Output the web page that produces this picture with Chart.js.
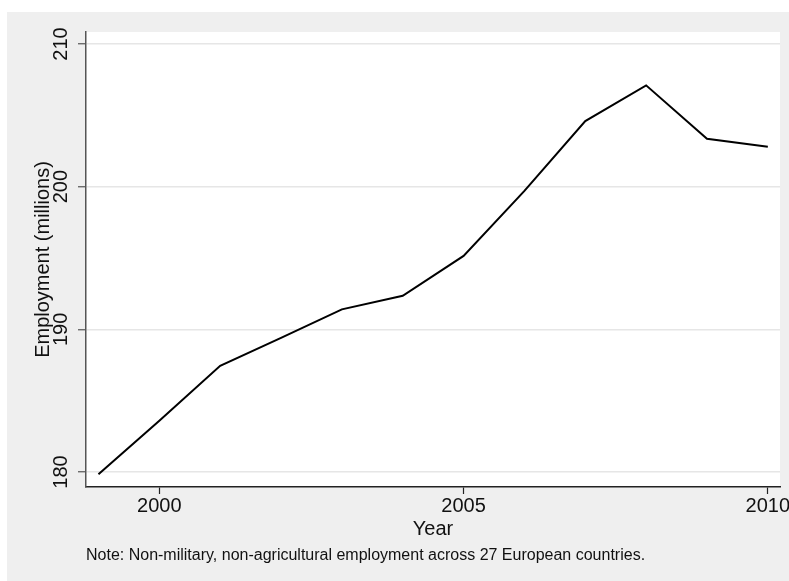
<!DOCTYPE html>
<html>
<head>
<meta charset="utf-8">
<script src="https://cdn.jsdelivr.net/npm/chart.js@4/dist/chart.umd.min.js"></script>
<style>
  html, body { margin: 0; padding: 0; background: #fff; }
  #wrap { width: 789px; height: 581px; }
</style>
</head>
<body>
<div id="wrap"><canvas id="chart" width="789" height="581"></canvas></div>
<script>
// data
const years = [1999, 2000, 2001, 2002, 2003, 2004, 2005, 2006, 2007, 2008, 2009, 2010];
const employment = [179.85, 183.6, 187.45, 189.4, 191.4, 192.35, 195.15, 199.7, 204.6, 207.1, 203.35, 202.8];
const xTicks = [2000, 2005, 2010];
const yTicks = [180, 190, 200, 210];
const noteText = 'Note: Non-military, non-agricultural employment across 27 European countries.';

const FONT = '"Liberation Sans", Arial, sans-serif';

// grey graph region, white strip top/left like the original export
const bgPlugin = {
    id: 'bg',
    beforeDraw(chart) {
        const ctx = chart.ctx;
        ctx.save();
        ctx.fillStyle = '#ffffff';
        ctx.fillRect(0, 0, chart.width, chart.height);
        ctx.fillStyle = '#efefef';
        ctx.fillRect(7, 12, chart.width - 7, chart.height - 12);
        const a = chart.chartArea;
        ctx.fillStyle = '#ffffff';
        ctx.fillRect(a.left, a.top, a.right - a.left, a.bottom - a.top);
        ctx.restore();
    }
};

new Chart(document.getElementById('chart'), {
    type: 'line',
    data: {
        datasets: [{
            data: years.map((yr, i) => ({ x: yr, y: employment[i] })),
            borderColor: '#000',
            borderWidth: 2,
            pointRadius: 0,
            tension: 0,
            fill: false
        }]
    },
    plugins: [bgPlugin],
    options: {
        responsive: false,
        animation: false,
        devicePixelRatio: 1,
        layout: { padding: { left: 7, top: 32, right: 9, bottom: 0 } },
        plugins: {
            legend: { display: false },
            tooltip: { enabled: false },
            title: {
                display: true,
                text: noteText,
                position: 'bottom',
                align: 'start',
                fullSize: false,
                color: '#111',
                font: { family: FONT, size: 16, weight: 'normal', lineHeight: 1.2 },
                padding: { top: 5, bottom: 15.8 }
            }
        },
        scales: {
            x: {
                type: 'linear',
                min: 1998.795,
                max: 2010.2,
                afterBuildTicks: s => { s.ticks = xTicks.map(v => ({ value: v })); },
                afterFit: s => { s.height = 54; s.paddingLeft = 0; s.paddingRight = 0; },
                ticks: {
                    color: '#111',
                    padding: 0,
                    font: { family: FONT, size: 20, lineHeight: 1.2 },
                    maxRotation: 0,
                    callback: v => String(v)
                },
                grid: { drawOnChartArea: false, drawTicks: true, tickLength: 7, tickColor: '#222', tickWidth: 1.2 },
                border: { display: true, color: '#222', width: 1.5 },
                title: {
                    display: true,
                    text: 'Year',
                    color: '#111',
                    font: { family: FONT, size: 20, lineHeight: 1.2 },
                    padding: { top: 0, bottom: 0 }
                }
            },
            y: {
                min: 178.95,
                max: 210.84,
                afterBuildTicks: s => { s.ticks = yTicks.map(v => ({ value: v })); },
                afterFit: s => { s.width = 79; s.paddingTop = 0; s.paddingBottom = 0; },
                ticks: {
                    color: '#111',
                    padding: 0,
                    minRotation: 90,
                    maxRotation: 90,
                    crossAlign: 'center',
                    font: { family: FONT, size: 20, lineHeight: 1.2 },
                    callback: v => String(v)
                },
                grid: { color: '#e6e6e6', lineWidth: 1.5, drawTicks: true, tickLength: 8, tickColor: '#555', tickWidth: 1.2 },
                border: { display: true, color: '#555', width: 1.5 },
                title: {
                    display: true,
                    text: 'Employment (millions)',
                    color: '#111',
                    font: { family: FONT, size: 20, lineHeight: 1.2 },
                    padding: { top: 24, bottom: 0 }
                }
            }
        }
    }
});
</script>
</body>
</html>
